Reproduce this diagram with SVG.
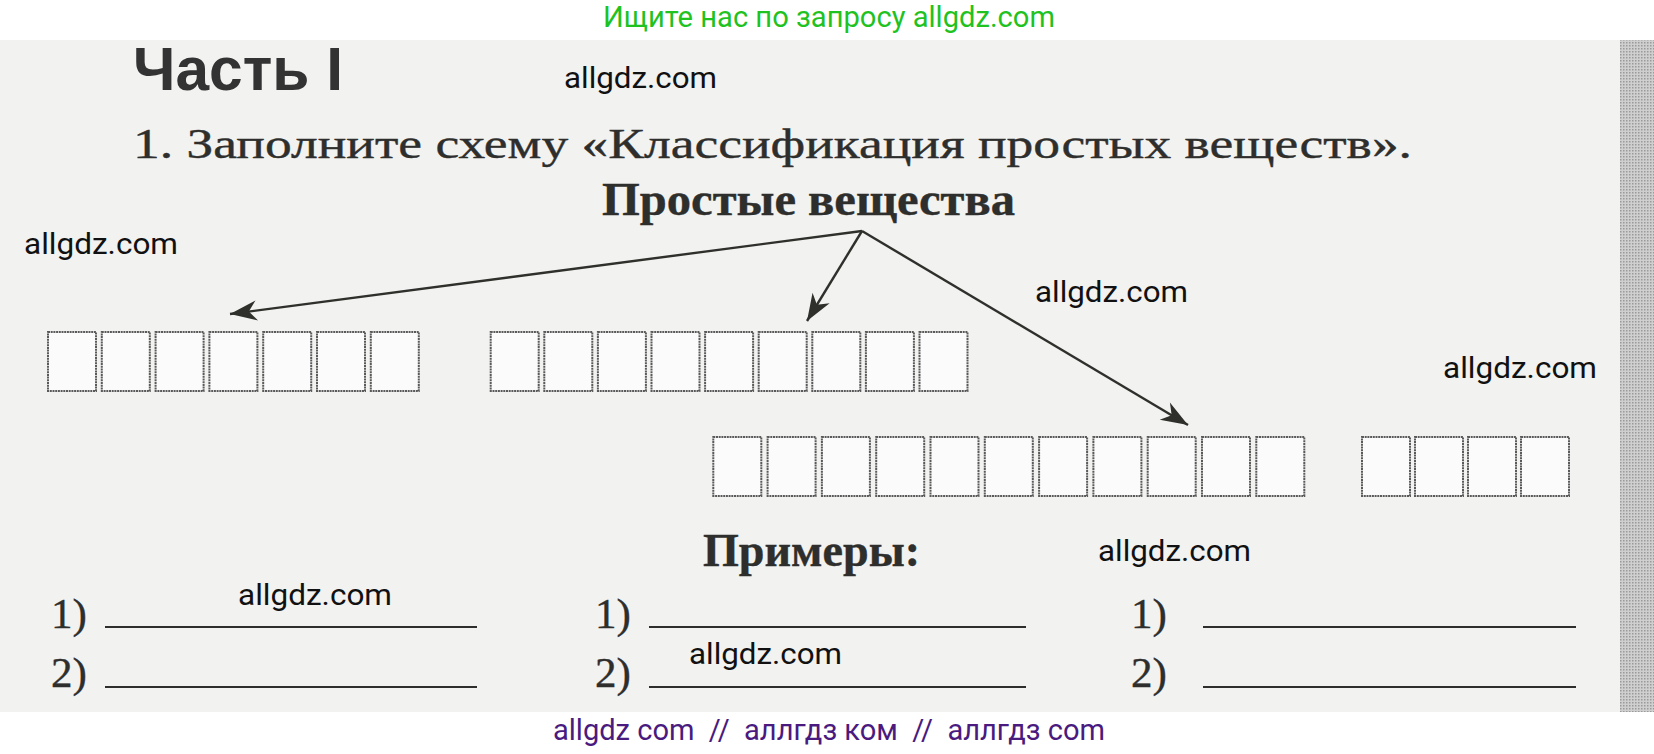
<svg xmlns="http://www.w3.org/2000/svg" width="1654" height="754" viewBox="0 0 1654 754">
<style>
.serif{font-family:"Liberation Serif","DejaVu Serif",serif;fill:#2e2e2c;stroke:#2e2e2c;stroke-width:0.4}
.wm{font-family:Roboto,"Liberation Sans",sans-serif;font-size:30px;fill:#111}
.box{fill:#fbfbfb;stroke:#5a5a5a;stroke-width:2;stroke-dasharray:2 0.7}
.conn{stroke:#2f2f2b;stroke-width:2.4;fill:none}
.ans{stroke:#2e2e2c;stroke-width:2.2}
</style>
<defs>
<pattern id="dots" width="3" height="3" patternUnits="userSpaceOnUse">
<rect width="3" height="3" fill="#cfcfcf"/>
<rect width="1.5" height="1.5" fill="#9a9a9a"/>
</pattern>
<marker id="ah" markerUnits="userSpaceOnUse" markerWidth="32" markerHeight="24" viewBox="-28 -12 30 24" refX="0" refY="0" orient="auto">
<path d="M0,0 L-27,-10 L-19,0 L-27,10 Z" fill="#2f2f2b"/>
</marker>
</defs>
<rect x="0" y="0" width="1654" height="754" fill="#ffffff"/>
<rect x="0" y="40" width="1654" height="672" fill="#f2f2f1"/>
<rect x="1620" y="40" width="34" height="672" fill="url(#dots)"/>

<text x="603" y="27" font-family="Roboto,'Liberation Sans',sans-serif" font-size="29" fill="#1fc21f" textLength="452" lengthAdjust="spacingAndGlyphs">Ищите нас по запросу allgdz.com</text>

<g id="title">
<text x="133" y="90" font-family="'Liberation Sans',Arial,sans-serif" font-weight="bold" font-size="62" fill="#333" textLength="210" lengthAdjust="spacingAndGlyphs">Часть I</text>
</g>
<g id="task">
<text class="serif" x="133" y="158" font-size="43" textLength="1279" lengthAdjust="spacingAndGlyphs">1. Заполните схему «Классификация простых веществ».</text>
</g>

<g id="root">
<text class="serif" x="602" y="215" font-size="46" font-weight="bold" textLength="413" lengthAdjust="spacingAndGlyphs">Простые вещества</text>
</g>

<g id="connectors">
<line class="conn" x1="862" y1="231" x2="230" y2="314" marker-end="url(#ah)"/>
<line class="conn" x1="862" y1="231" x2="807" y2="321" marker-end="url(#ah)"/>
<line class="conn" x1="862" y1="231" x2="1188" y2="425" marker-end="url(#ah)"/>
</g>

<g id="group1">
<rect class="box" x="48" y="332" width="48" height="59"/>
<rect class="box" x="101.8" y="332" width="48" height="59"/>
<rect class="box" x="155.6" y="332" width="48" height="59"/>
<rect class="box" x="209.4" y="332" width="48" height="59"/>
<rect class="box" x="263.2" y="332" width="48" height="59"/>
<rect class="box" x="317" y="332" width="48" height="59"/>
<rect class="box" x="370.8" y="332" width="48" height="59"/>
</g>
<g id="group2">
<rect class="box" x="490.7" y="332" width="48" height="59"/>
<rect class="box" x="544.3" y="332" width="48" height="59"/>
<rect class="box" x="597.9" y="332" width="48" height="59"/>
<rect class="box" x="651.5" y="332" width="48" height="59"/>
<rect class="box" x="705.1" y="332" width="48" height="59"/>
<rect class="box" x="758.7" y="332" width="48" height="59"/>
<rect class="box" x="812.3" y="332" width="48" height="59"/>
<rect class="box" x="865.9" y="332" width="48" height="59"/>
<rect class="box" x="919.5" y="332" width="48" height="59"/>
</g>
<g id="group3">
<rect class="box" x="713.3" y="437" width="48" height="59"/>
<rect class="box" x="767.6" y="437" width="48" height="59"/>
<rect class="box" x="821.9" y="437" width="48" height="59"/>
<rect class="box" x="876.2" y="437" width="48" height="59"/>
<rect class="box" x="930.5" y="437" width="48" height="59"/>
<rect class="box" x="984.8" y="437" width="48" height="59"/>
<rect class="box" x="1039.1" y="437" width="48" height="59"/>
<rect class="box" x="1093.4" y="437" width="48" height="59"/>
<rect class="box" x="1147.7" y="437" width="48" height="59"/>
<rect class="box" x="1202" y="437" width="48" height="59"/>
<rect class="box" x="1256.3" y="437" width="48" height="59"/>
</g>
<g id="group4">
<rect class="box" x="1362" y="437" width="48" height="59"/>
<rect class="box" x="1415" y="437" width="48" height="59"/>
<rect class="box" x="1468" y="437" width="48" height="59"/>
<rect class="box" x="1521" y="437" width="48" height="59"/>
</g>

<g id="examples">
<text class="serif" x="703" y="566" font-size="46" font-weight="bold" textLength="217" lengthAdjust="spacingAndGlyphs">Примеры:</text>
<text class="serif" x="51" y="628" font-size="43">1)</text>
<line class="ans" x1="105" y1="627" x2="477" y2="627"/>
<text class="serif" x="51" y="687" font-size="43">2)</text>
<line class="ans" x1="105" y1="687" x2="477" y2="687"/>
<text class="serif" x="595" y="628" font-size="43">1)</text>
<line class="ans" x1="649" y1="627" x2="1026" y2="627"/>
<text class="serif" x="595" y="687" font-size="43">2)</text>
<line class="ans" x1="649" y1="687" x2="1026" y2="687"/>
<text class="serif" x="1131" y="628" font-size="43">1)</text>
<line class="ans" x1="1203" y1="627" x2="1576" y2="627"/>
<text class="serif" x="1131" y="687" font-size="43">2)</text>
<line class="ans" x1="1203" y1="687" x2="1576" y2="687"/>
</g>

<g id="watermarks">
<text class="wm" x="564" y="88" textLength="153" lengthAdjust="spacingAndGlyphs">allgdz.com</text>
<text class="wm" x="24" y="254" textLength="154" lengthAdjust="spacingAndGlyphs">allgdz.com</text>
<text class="wm" x="1035" y="302" textLength="153" lengthAdjust="spacingAndGlyphs">allgdz.com</text>
<text class="wm" x="1443" y="378" textLength="154" lengthAdjust="spacingAndGlyphs">allgdz.com</text>
<text class="wm" x="1098" y="561" textLength="153" lengthAdjust="spacingAndGlyphs">allgdz.com</text>
<text class="wm" x="238" y="605" textLength="154" lengthAdjust="spacingAndGlyphs">allgdz.com</text>
<text class="wm" x="689" y="664" textLength="153" lengthAdjust="spacingAndGlyphs">allgdz.com</text>
</g>
<text x="553" y="740" font-family="Roboto,'Liberation Sans',sans-serif" font-size="29" fill="#4a1a7e" xml:space="preserve" textLength="552" lengthAdjust="spacingAndGlyphs">allgdz com  //  аллгдз ком  //  аллгдз com</text>
</svg>
